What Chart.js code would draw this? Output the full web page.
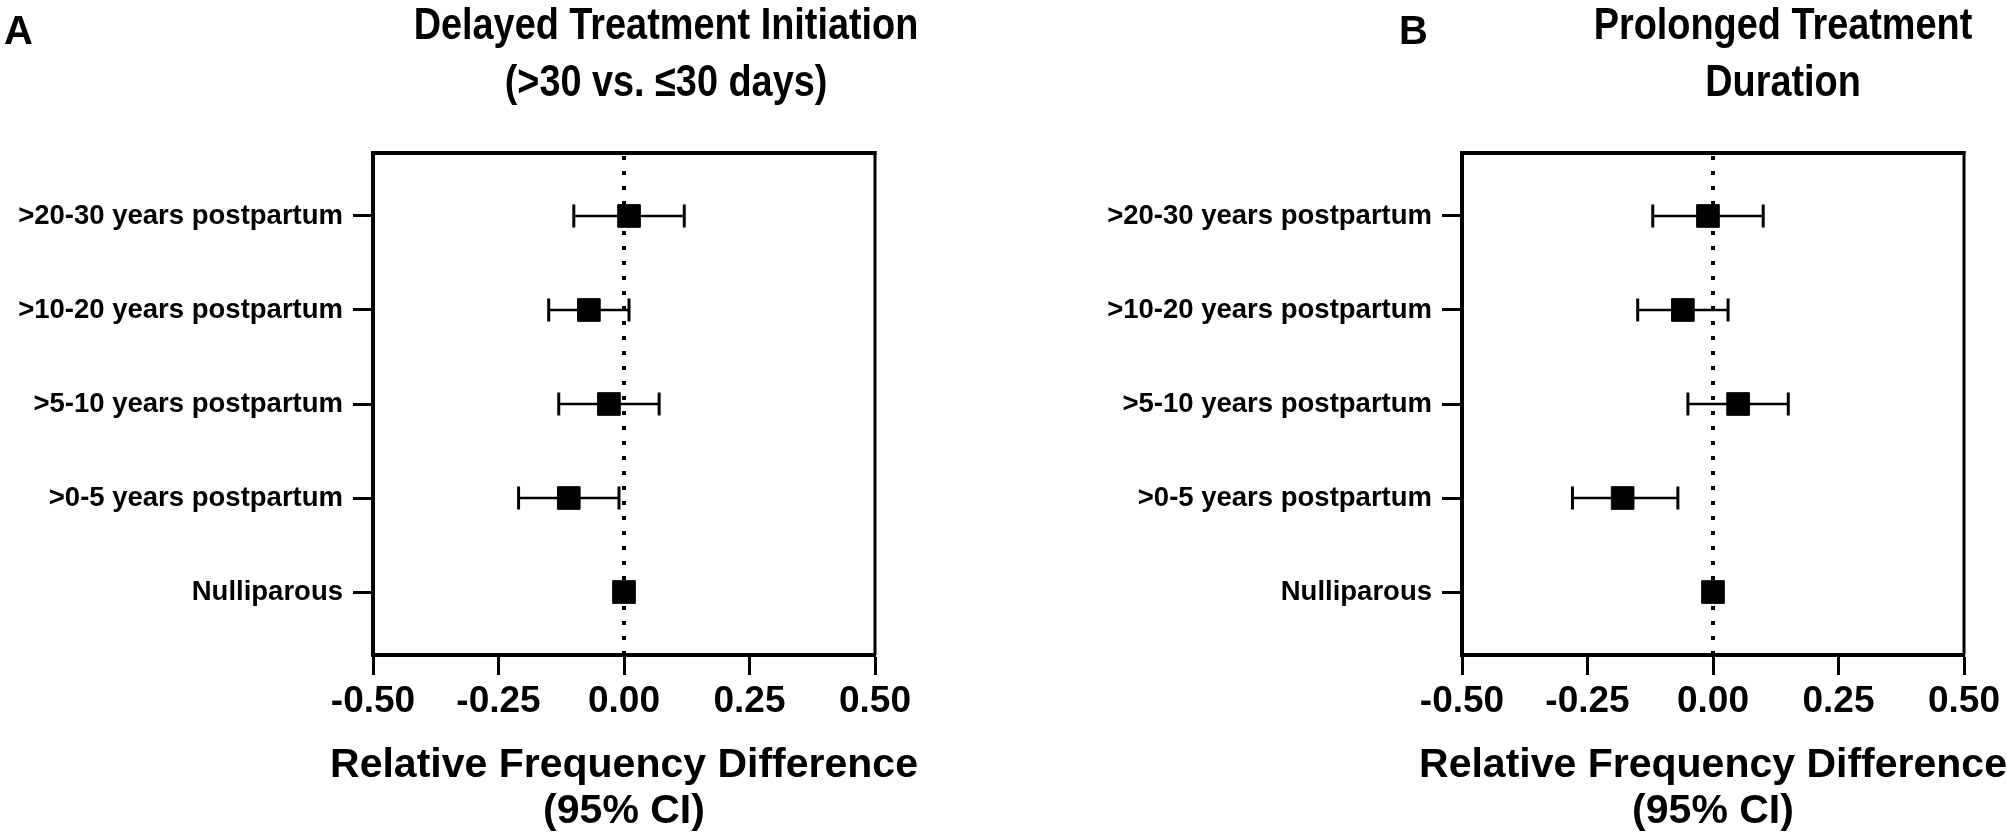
<!DOCTYPE html>
<html>
<head>
<meta charset="utf-8">
<script src="https://cdn.jsdelivr.net/npm/chart.js@4.4.1/dist/chart.umd.min.js"></script>
<style>
  html, body { margin: 0; padding: 0; background: #fff; overflow: hidden; width: 2007px; height: 837px; }
  .panel { position: absolute; top: 0; }
</style>
</head>
<body>
<div class="panel" style="left:0px"><canvas id="chartA" width="1000" height="837"></canvas></div>
<div class="panel" style="left:1000px"><canvas id="chartB" width="1007" height="837"></canvas></div>
<script>
// ---------- data ----------
const categories = ['Nulliparous', '>0-5 years postpartum', '>5-10 years postpartum', '>10-20 years postpartum', '>20-30 years postpartum'];
const xTickValues = [-0.5, -0.25, 0, 0.25, 0.5];

const estimateA = [0, -0.11, -0.03, -0.07, 0.01];
const lowerA    = [null, -0.21, -0.13, -0.15, -0.10];
const upperA    = [null, -0.01, 0.07, 0.01, 0.12];

const estimateB = [0, -0.18, 0.05, -0.06, -0.01];
const lowerB    = [null, -0.28, -0.05, -0.15, -0.12];
const upperB    = [null, -0.07, 0.15, 0.03, 0.10];

const referenceValue = 0;

const titleA = ['Delayed Treatment Initiation', '(>30 vs. \u226430 days)'];
const titleB = ['Prolonged Treatment', 'Duration'];
const letterA = 'A';
const letterB = 'B';
const xAxisTitle = ['Relative Frequency Difference', '(95% CI)'];

// ---------- styling ----------
const FAMILY = "'Liberation Sans', Arial, Helvetica, sans-serif";
const Y_MIN = -0.67, Y_MAX = 4.67;

const headingPlugin = {
  id: 'heading',
  afterDraw(chart, args, o) {
    const ctx = chart.ctx;
    const area = chart.chartArea;
    ctx.save();
    ctx.fillStyle = '#000';
    ctx.textBaseline = 'alphabetic';
    // chart title (slightly condensed face)
    ctx.save();
    ctx.font = `bold ${o.size}px ${FAMILY}`;
    ctx.textAlign = 'center';
    ctx.translate(o.centerX, 0);
    ctx.scale(o.squeeze, 1);
    o.lines.forEach((t, i) => ctx.fillText(t, 0, o.baseline + i * o.gap));
    ctx.restore();
    // panel letter
    ctx.font = `bold ${o.letterSize}px ${FAMILY}`;
    ctx.textAlign = 'left';
    ctx.fillText(o.letter, o.letterX, o.letterBaseline);
    // x-axis title
    ctx.font = `bold ${o.axisSize}px ${FAMILY}`;
    ctx.textAlign = 'center';
    const cx = (area.left + area.right) / 2;
    o.axisLines.forEach((t, i) => ctx.fillText(t, cx, o.axisBaseline + i * o.axisGap));
    ctx.restore();
  }
};

const framePlugin = {
  id: 'frame',
  afterDraw(chart) {
    const { ctx, chartArea: { left, right, top, bottom } } = chart;
    ctx.save();
    ctx.strokeStyle = '#000';
    ctx.lineWidth = 4;
    ctx.beginPath(); ctx.moveTo(left - 2, top); ctx.lineTo(right + 1.5, top); ctx.stroke();
    ctx.lineWidth = 3;
    ctx.beginPath(); ctx.moveTo(right, top - 2); ctx.lineTo(right, bottom); ctx.stroke();
    ctx.restore();
  }
};

function buildChart(canvasId, est, lo, hi, title, letter, layout) {
  const whiskers = [];
  est.forEach((_, i) => {
    if (lo[i] === null || hi[i] === null) return;
    whiskers.push({
      data: [{ x: lo[i], y: i }, { x: hi[i], y: i }],
      showLine: true,
      borderColor: '#000',
      borderWidth: 2.5,
      pointStyle: 'line',
      pointRotation: 90,
      pointRadius: 11.5,
      pointBorderWidth: 3,
      pointBorderColor: '#000',
      order: 2
    });
  });

  const datasets = [
    {
      data: [{ x: referenceValue, y: Y_MIN }, { x: referenceValue, y: Y_MAX }],
      showLine: true,
      borderColor: '#000',
      borderWidth: 4,
      borderDash: [4, 11],
      borderCapStyle: 'butt',
      pointRadius: 0,
      order: 3
    },
    ...whiskers,
    {
      data: est.map((v, i) => ({ x: v, y: i })),
      pointStyle: 'rect',
      pointRadius: 16,
      backgroundColor: '#000',
      borderColor: '#000',
      pointBorderWidth: 1,
      order: 1
    }
  ];

  const axisCommon = {
    grid: { drawOnChartArea: false, drawTicks: true, tickLength: 20, tickWidth: 3, tickColor: '#000' },
    border: { display: true, color: '#000', width: 4 }
  };

  return new Chart(document.getElementById(canvasId), {
    type: 'scatter',
    data: { datasets },
    options: {
      responsive: false,
      animation: false,
      events: [],
      layout: { padding: { left: 0, right: layout.padRight, top: 153, bottom: 0 } },
      plugins: {
        legend: { display: false },
        tooltip: { enabled: false },
        title: { display: false },
        heading: {
          lines: title, size: 44, squeeze: 0.86, centerX: layout.titleX, baseline: 39, gap: 57,
          letter: letter, letterSize: 40, letterX: layout.letterX, letterBaseline: 44,
          axisLines: xAxisTitle, axisSize: 41, axisBaseline: 777, axisGap: 46
        }
      },
      scales: {
        x: {
          type: 'linear', min: -0.5, max: 0.5,
          afterBuildTicks: s => { s.ticks = xTickValues.map(v => ({ value: v })); },
          afterFit: s => { s.height = 182; },
          ticks: {
            autoSkip: false, maxRotation: 0, padding: 5, color: '#000',
            font: { family: FAMILY, size: 37, weight: 'bold' },
            callback: v => Number(v).toFixed(2)
          },
          ...axisCommon
        },
        y: {
          type: 'linear', min: Y_MIN, max: Y_MAX,
          afterBuildTicks: s => { s.ticks = categories.map((_, i) => ({ value: i })); },
          afterFit: s => { s.width = layout.yWidth; },
          ticks: {
            autoSkip: false, padding: 10, color: '#000',
            font: { family: FAMILY, size: 27.5, weight: 'bold' },
            callback: v => categories[v]
          },
          ...axisCommon
        }
      }
    },
    plugins: [headingPlugin, framePlugin]
  });
}

buildChart('chartA', estimateA, lowerA, upperA, titleA, letterA,
  { yWidth: 373, padRight: 125, titleX: 666, letterX: 4 });
buildChart('chartB', estimateB, lowerB, upperB, titleB, letterB,
  { yWidth: 462, padRight: 43, titleX: 783, letterX: 399 });
</script>
</body>
</html>
